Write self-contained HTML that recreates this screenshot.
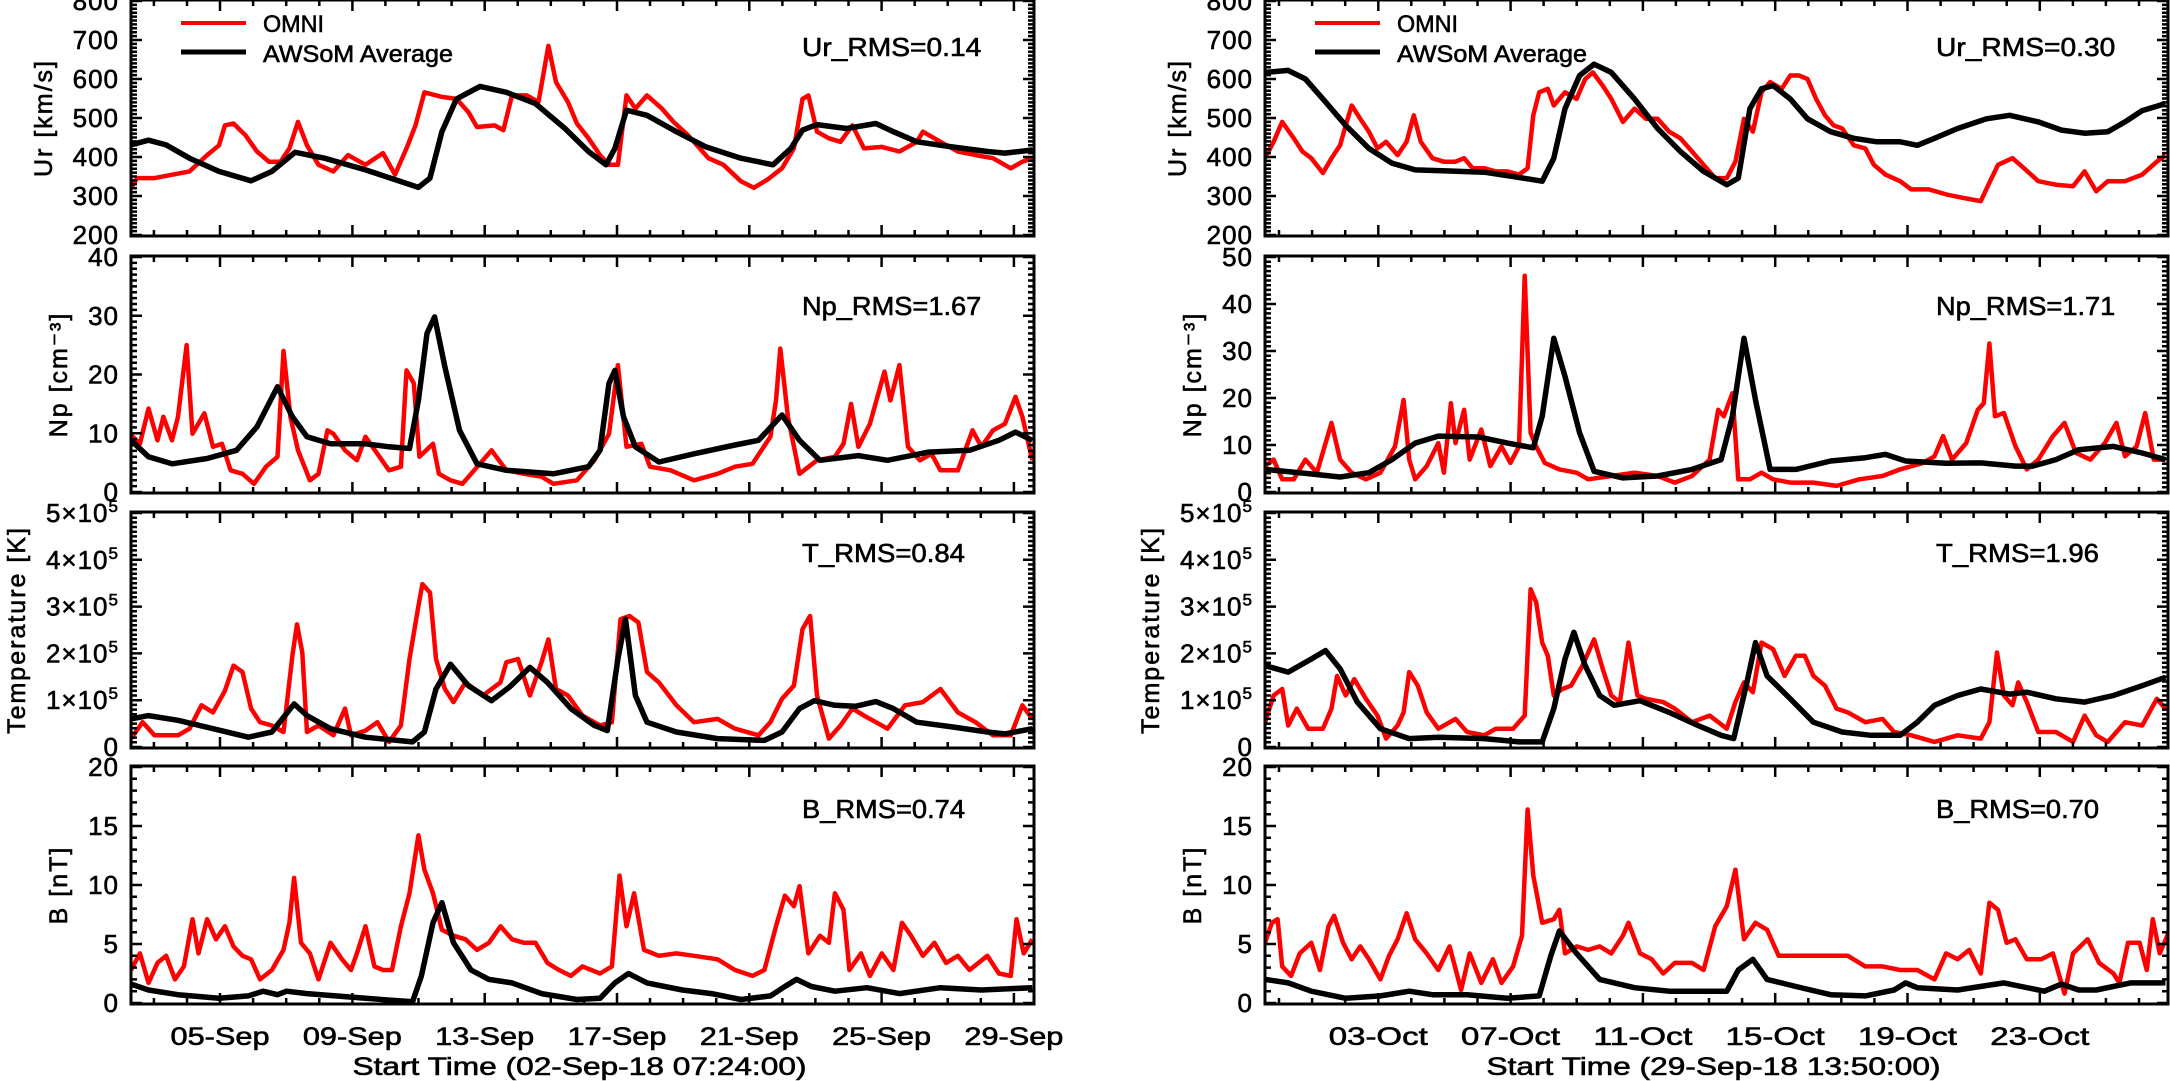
<!DOCTYPE html>
<html><head><meta charset="utf-8"><style>
html,body{margin:0;padding:0;background:#fff;}
svg{display:block;}
text{font-family:"Liberation Sans",sans-serif;fill:#000;stroke:#000;stroke-width:0.6px;}
</style></head><body>
<svg id="chart" width="2170" height="1081" viewBox="0 0 2170 1081" xmlns="http://www.w3.org/2000/svg"></svg>
<script>
// ---------- data (time in days since start, values in physical units) ----------
const leftDateLabels=["05-Sep","09-Sep","13-Sep","17-Sep","21-Sep","25-Sep","29-Sep"];
const rightDateLabels=["03-Oct","07-Oct","11-Oct","15-Oct","19-Oct","23-Oct"];
const leftFirstMidnight=0.692, rightFirstMidnight=0.424;
const leftFirstLabelDay=2.692, rightFirstLabelDay=3.424;
const urTicks=[200,300,400,500,600,700,800];
const npTicksLeft=[0,10,20,30,40];
const npTicksRight=[0,10,20,30,40,50];
const tTicks=[0,1,2,3,4,5];
const bTicks=[0,5,10,15,20];
const rmsLeft=["Ur_RMS=0.14","Np_RMS=1.67","T_RMS=0.84","B_RMS=0.74"];
const rmsRight=["Ur_RMS=0.30","Np_RMS=1.71","T_RMS=1.96","B_RMS=0.70"];

const leftUrOmniTime=[0,.18,.71,1.77,2.30,2.66,2.84,3.10,3.46,3.81,4.17,4.52,4.79,5.05,5.32,5.67,6.12,6.56,7.09,7.62,7.98,8.33,8.60,8.87,9.40,9.84,10.20,10.46,10.99,11.26,11.52,11.97,12.32,12.62,12.85,13.21,13.48,13.83,14.18,14.45,14.72,14.98,15.25,15.60,16.05,16.40,16.84,17.46,17.91,18.44,18.83,19.24,19.68,20.04,20.30,20.48,20.74,21.10,21.45,21.81,22.16,22.70,23.23,23.76,23.94,24.47,25.00,25.53,26.06,26.60,26.95,27.25];
const leftUrOmni=[320,346,346,363,405,430,481,486,456,414,388,388,422,490,430,380,363,405,380,410,355,422,481,566,554,549,515,477,481,469,558,558,541,685,592,541,486,448,405,380,380,558,524,558,524,490,456,397,380,338,321,342,371,422,549,558,465,448,439,481,422,426,414,439,465,439,414,405,397,371,388,397];
const leftUrModelTime=[0,.53,1.06,1.77,2.66,3.63,4.26,4.96,5.85,7.09,7.98,8.69,9.04,9.40,9.84,10.55,11.35,12.23,13.12,13.83,14.36,14.63,14.98,15.60,16.49,17.38,18.44,19.41,19.95,20.30,20.74,21.63,22.52,23.05,23.76,24.82,25.89,26.42,27.25];
const leftUrModel=[431,443,431,397,363,339,363,412,397,367,342,322,346,465,549,581,566,537,473,414,380,422,520,507,465,426,397,380,422,469,483,473,486,465,439,426,414,410,418];

const leftNpOmniTime=[0,.27,.53,.80,.98,1.24,1.42,1.68,1.86,2.22,2.48,2.75,3.01,3.37,3.72,4.08,4.43,4.61,4.82,5.05,5.41,5.67,5.94,6.12,6.47,6.83,7.09,7.45,7.80,8.16,8.33,8.55,8.72,9.13,9.31,9.66,10.02,10.64,10.90,11.35,11.88,12.41,12.77,13.48,14.01,14.45,14.72,14.98,15.43,15.69,16.31,17.02,17.73,18.26,18.79,19.33,19.50,19.63,19.86,20.21,20.74,21.28,21.54,21.77,21.99,22.34,22.78,22.96,23.23,23.49,23.85,24.20,24.47,25.00,25.44,25.71,26.06,26.42,26.74,26.95,27.25];
const leftNpOmni=[9.7,8.2,14.2,8.8,12.8,8.8,12.8,25,9.9,13.4,7.7,8.2,3.7,3.1,1.4,4.3,6,24,12.8,7.1,2,3.1,10.5,9.9,7.1,5.4,9.4,6.5,3.7,4.3,20.7,18.5,6,8.2,3.1,2,1.4,5.4,7.1,3.7,3.1,2.6,1.4,2,5.4,9.9,21.6,7.7,8.2,4.3,3.7,2,3.1,4.3,4.8,9.4,15.6,24.4,12.8,3.1,5.4,6,8.2,15,7.7,11.6,20.5,15.6,21.6,7.7,5.4,6.5,3.7,3.7,10.5,7.7,10.5,11.6,16.2,12.8,5.4];
const leftNpModelTime=[0,.53,1.24,2.30,3.19,3.81,4.43,4.88,5.32,6.03,7.09,7.80,8.42,8.69,8.95,9.18,9.49,9.93,10.46,11.35,12.77,13.83,14.18,14.45,14.63,14.89,15.25,15.96,17.02,18.26,18.97,19.68,20.21,20.83,21.99,22.87,24.11,25.35,26.24,26.74,27.25];
const leftNpModel=[8.8,6,4.8,5.7,7.1,11.1,17.9,12.8,9.4,8.2,8.2,7.7,7.4,15.6,27,29.8,21.3,10.5,4.8,3.7,3.1,4.3,7.1,18.5,20.7,12.8,7.7,5.1,6.5,8,8.8,13.1,8.8,5.4,6.2,5.4,6.8,7.1,8.8,10.2,8.8];

const leftTOmniTime=[0,.35,.71,1.42,1.77,2.13,2.48,2.84,3.10,3.37,3.63,3.90,4.26,4.61,4.88,5.02,5.18,5.32,5.67,6.12,6.47,6.65,7.09,7.45,7.80,8.16,8.42,8.69,8.81,9.04,9.22,9.49,9.75,10.11,10.64,11.17,11.35,11.70,12.06,12.41,12.62,12.85,13.21,13.65,14.18,14.54,14.80,15.07,15.34,15.60,15.96,16.49,17.02,17.73,18.26,18.97,19.33,19.68,20.04,20.30,20.53,20.74,21.10,21.45,21.81,22.16,22.52,22.87,23.40,23.94,24.47,25.00,25.53,26.06,26.60,26.95,27.25];
const leftTOmni=[.18,.53,.25,.25,.39,.89,.74,1.2,1.74,1.6,.82,.53,.46,.32,1.95,2.62,2.02,.32,.46,.25,.82,.25,.35,.53,.11,.46,1.88,3.01,3.48,3.3,1.88,1.24,.96,1.38,1.1,1.38,1.81,1.88,1.1,1.81,2.3,1.24,1.1,.67,.46,.53,2.73,2.8,2.66,1.6,1.38,.89,.53,.6,.39,.25,.53,1.03,1.31,2.52,2.8,1.1,.18,.46,.82,.67,.53,.39,.89,.96,1.24,.74,.53,.25,.25,.89,.6];
const leftTModelTime=[0,.53,1.42,2.48,3.55,3.99,4.26,4.93,5.32,6.03,7.09,8.51,8.87,9.22,9.66,10.20,10.90,11.44,12.06,12.59,13.30,14.01,14.40,14.72,14.95,15.25,15.60,16.49,17.73,19.15,19.68,20.21,20.66,21.28,21.90,22.52,23.05,23.76,24.82,25.89,26.42,27.25];
const leftTModel=[.6,.67,.57,.39,.21,.28,.32,.92,.67,.39,.21,.11,.32,1.24,1.77,1.31,.99,1.28,1.7,1.38,.82,.46,.35,1.88,2.73,1.1,.53,.32,.18,.14,.32,.82,.99,.89,.87,.97,.82,.53,.43,.32,.28,.39];

const leftBOmniTime=[0,.27,.53,.80,1.06,1.33,1.60,1.86,2.04,2.30,2.57,2.84,3.10,3.37,3.63,3.90,4.26,4.61,4.79,4.93,5.14,5.41,5.67,6.03,6.38,6.65,6.83,7.09,7.36,7.62,7.89,8.16,8.42,8.69,8.87,9.13,9.40,9.75,10.11,10.46,10.82,11.17,11.52,11.88,12.23,12.59,12.94,13.30,13.65,14.18,14.54,14.77,14.98,15.21,15.51,15.96,16.49,17.02,17.73,18.26,18.79,19.15,19.50,19.77,20.04,20.21,20.48,20.83,21.10,21.28,21.54,21.72,22.07,22.34,22.70,23.05,23.31,23.58,23.94,24.29,24.64,25.00,25.35,25.89,26.24,26.60,26.77,26.99,27.25];
const leftBOmni=[2.8,4.2,1.7,3.4,4,2,3.1,7.1,4.2,7.1,5.4,6.5,4.8,4,3.7,2,2.8,4.5,6.8,10.6,5.1,4.2,2,5.1,3.7,2.8,4.2,6.5,3.1,2.8,2.8,6.5,9.3,14.2,11.3,9.3,6.2,5.7,5.4,4.5,5.1,6.5,5.4,5.1,5.1,3.4,2.8,2.3,3.1,2.5,3.1,10.8,6.5,9.3,4.5,4,4.2,4,3.7,2.8,2.3,2.8,6.5,9.1,8.2,9.9,4.2,5.7,5.1,9.3,7.9,2.8,4.2,2.3,4.2,2.8,6.8,5.7,4,5.1,3.4,4,2.8,4,2.5,2.3,7.1,4.2,5.4];
const leftBModelTime=[0,.53,1.42,2.66,3.55,3.99,4.43,4.70,5.32,7.09,8.51,8.78,9.13,9.40,9.75,10.28,10.82,11.52,12.41,13.48,14.18,14.63,15.04,15.60,16.67,17.55,18.44,19.33,19.77,20.12,20.57,21.28,22.25,23.23,24.47,25.71,27.25];
const leftBModel=[1.6,1.1,.7,.4,.6,1,.7,1,.8,.4,.1,2.3,6.8,8.5,5.1,2.8,2,1.7,.8,.3,.4,1.7,2.5,1.7,1.1,.8,.3,.6,1.4,2,1.4,1,1.3,.8,1.3,1.1,1.3];

const rightUrOmniTime=[0,.26,.52,.87,1.13,1.40,1.75,2.01,2.27,2.44,2.62,2.88,3.14,3.40,3.66,4.01,4.28,4.50,4.71,5.06,5.41,5.76,6.02,6.28,6.63,6.98,7.33,7.68,7.94,8.11,8.29,8.55,8.73,9.07,9.42,9.68,9.91,10.21,10.47,10.82,11.17,11.52,11.87,12.22,12.56,12.91,13.26,13.61,13.96,14.22,14.48,14.75,15.01,15.27,15.62,15.88,16.14,16.40,16.66,16.93,17.19,17.45,17.80,18.15,18.41,18.76,19.20,19.54,20.07,20.59,21.11,21.64,21.90,22.16,22.60,22.95,23.38,23.91,24.43,24.78,25.13,25.48,26.00,26.52,26.96,27.22];
const rightUrOmni=[397,439,490,448,414,397,359,397,430,481,532,498,465,422,439,405,439,507,439,397,388,388,397,371,371,363,363,355,371,507,566,575,532,566,549,600,617,583,549,490,524,498,498,465,448,414,380,346,346,388,498,465,566,592,575,609,609,600,549,507,481,473,430,422,380,355,338,317,317,304,295,287,334,380,397,371,338,329,325,363,312,338,338,355,388,405];
const rightUrModelTime=[0,.70,1.22,1.75,2.44,3.14,3.84,4.54,5.58,6.63,7.50,8.38,8.73,9.07,9.51,9.95,10.47,11.17,11.87,12.56,13.26,13.96,14.31,14.66,15.01,15.36,15.88,16.40,17.10,17.80,18.50,19.20,19.72,20.24,20.94,21.81,22.51,23.38,24.08,24.78,25.48,26.00,26.52,27.22];
const rightUrModel=[617,622,600,549,481,422,384,367,364,361,350,338,397,524,609,638,617,549,473,414,363,329,346,524,575,583,549,498,465,448,439,439,430,448,473,498,507,490,469,461,465,490,519,537];

const rightNpOmniTime=[0,.26,.52,.87,1.22,1.57,2.01,2.27,2.62,3.05,3.49,3.93,4.19,4.36,4.54,4.89,5.24,5.41,5.62,5.76,6.02,6.19,6.54,6.81,7.15,7.42,7.68,7.85,8.03,8.20,8.46,8.90,9.42,9.77,10.47,11.17,11.87,12.39,12.91,13.44,13.70,13.87,14.13,14.31,14.66,15.01,15.36,15.88,16.58,17.28,17.97,18.67,19.20,19.89,20.24,20.50,20.77,21.20,21.55,21.73,21.90,22.07,22.34,22.69,23.03,23.38,23.82,24.17,24.52,24.95,25.39,25.74,26.00,26.35,26.61,26.87,27.22];
const rightNpOmni=[5.5,6.9,2.7,2.7,6.9,4.1,14.7,6.9,4.1,2.7,4.1,9.7,19.6,6.9,2.7,5.5,10.4,4.1,18.9,10.4,17.5,6.9,13.3,5.5,9.7,6.2,9.7,46,12.6,9.7,6.2,4.8,4.1,2.7,3.4,4.1,3.4,2,3.4,6.9,17.5,16.1,21,2.7,2.7,4.1,2.7,2,2,1.3,2.7,3.4,4.8,6.2,7.6,11.9,6.9,10.4,17.5,18.9,31.6,16.1,16.8,9.7,4.8,6.9,11.9,14.7,8.3,6.9,10.4,14.7,7.6,9.7,16.8,6.9,6.9];
const rightNpModelTime=[0,1.05,2.27,3.14,3.84,4.54,5.24,6.46,7.33,8.11,8.38,8.73,9.07,9.51,9.95,10.82,11.87,12.91,13.79,14.13,14.48,14.83,15.27,16.05,17.10,18.15,18.76,19.37,20.59,21.64,22.69,23.21,23.91,24.60,25.65,26.52,27.22];
const rightNpModel=[4.8,4.1,3.2,4.1,6.9,10.4,11.9,11.7,10.4,9.4,16.1,32.7,24.6,12.6,4.4,3,3.4,4.8,6.9,16.1,32.7,19.6,4.8,4.8,6.6,7.3,8,6.6,6.1,6.2,5.5,5.5,6.9,9,9.7,8.3,6.9];

const rightTOmniTime=[0,.26,.52,.70,.96,1.31,1.75,2.01,2.18,2.44,2.70,3.05,3.40,3.66,4.01,4.19,4.36,4.62,4.89,5.24,5.76,6.11,6.63,6.98,7.50,7.85,8.03,8.20,8.38,8.55,8.73,8.99,9.25,9.60,9.95,10.21,10.47,10.73,10.99,11.26,11.52,12.04,12.39,12.91,13.44,13.96,14.22,14.48,14.75,15.01,15.36,15.71,16.05,16.32,16.58,16.93,17.28,17.62,18.15,18.67,19.02,19.54,20.24,20.94,21.64,21.90,22.13,22.34,22.60,22.77,23.03,23.38,23.91,24.43,24.78,25.13,25.48,26.00,26.52,26.96,27.22];
const rightTOmni=[.53,1.1,1.24,.46,.82,.39,.39,.82,1.52,1.1,1.45,1.03,.67,.18,.46,.74,1.6,1.31,.74,.39,.6,.32,.25,.39,.39,.67,3.37,3.09,2.23,1.95,1.1,1.24,1.31,1.74,2.3,1.67,1.1,.96,2.23,1.1,1.03,.96,.82,.53,.67,.39,.96,1.38,1.17,2.23,2.09,1.52,1.95,1.95,1.52,1.31,.82,.74,.53,.6,.32,.25,.11,.25,.18,.53,2.02,1.1,.89,1.38,.96,.32,.32,.11,.67,.25,.11,.53,.46,1.03,.82];
const rightTModelTime=[0,.70,1.40,1.83,2.27,2.79,3.49,4.36,5.24,6.63,7.68,8.38,8.73,9.07,9.34,9.68,10.12,10.56,11.34,12.22,13.09,13.79,14.17,14.57,14.83,15.18,15.88,16.58,17.45,18.32,19.20,19.72,20.24,20.94,21.64,22.51,23.03,23.91,24.78,25.65,26.52,27.22];
const rightTModel=[1.74,1.6,1.88,2.06,1.67,.96,.39,.18,.21,.18,.11,.11,.82,1.88,2.45,1.74,1.1,.89,.99,.74,.46,.25,.18,1.38,2.23,1.52,1.03,.53,.32,.25,.25,.53,.89,1.1,1.24,1.13,1.17,1.03,.96,1.1,1.31,1.49];

const rightBOmniTime=[0,.21,.38,.52,.79,1.05,1.40,1.66,1.92,2.09,2.36,2.62,2.88,3.14,3.49,3.75,4.01,4.28,4.54,4.89,5.24,5.58,5.93,6.19,6.54,6.89,7.15,7.50,7.77,7.94,8.11,8.38,8.73,8.90,9.07,9.42,9.77,10.12,10.47,10.82,10.99,11.34,11.69,12.04,12.39,12.91,13.26,13.61,13.96,14.22,14.48,14.83,15.18,15.53,16.05,16.58,17.10,17.62,18.15,18.67,19.20,19.72,20.24,20.59,20.94,21.29,21.64,21.90,22.16,22.42,22.69,23.03,23.47,23.82,24.17,24.43,24.87,25.22,25.65,25.83,26.09,26.44,26.66,26.84,27.05,27.31];
const rightBOmni=[5.1,6.8,7.1,3.1,2.3,4.2,5.1,2.8,6.5,7.4,5.1,3.7,4.8,3.7,2,4,5.4,7.6,5.4,4.2,2.8,4.8,1.1,4.2,1.7,3.7,1.7,3.1,5.7,16.4,10.8,6.8,7.1,7.9,4.2,4.8,4.5,4.8,4.2,5.7,6.8,4.2,3.7,2.5,3.4,3.4,2.8,6.5,8.2,11.3,5.4,6.8,6.2,4,4,4,4,4,3.1,3.1,2.8,2.8,2,4.2,3.7,4.5,2.5,8.5,7.9,5.1,5.4,3.7,3.7,4.2,.8,4.2,5.4,3.4,2.5,1.7,5.1,5.1,2.8,7.1,4.2,5.9];
const rightBModelTime=[0,.70,1.40,2.44,3.49,4.36,5.06,6.11,7.33,8.29,8.64,8.90,9.42,10.12,11.17,12.22,13.96,14.31,14.75,15.18,16.05,17.10,18.15,19.02,19.37,19.72,20.94,22.34,23.56,24.08,24.60,25.13,26.17,27.22];
const rightBModel=[2,1.7,1,.4,.6,1,.7,.7,.4,.6,4,6.1,4.2,2,1.3,1,1,2.8,3.7,2,1.4,.7,.6,1.1,1.7,1.3,1.1,1.7,1,1.6,1.1,1.1,1.7,1.7];

// ---------- layout ----------
const NS="http://www.w3.org/2000/svg";
const svg=document.getElementById('chart');
const SPAN=27.3, PW=903;
const sides=[{x0:131,side:'left'},{x0:1265,side:'right'}];
const tops=[0,256,512,766], bots=[236,493,748,1004];
function el(tag,attrs,parent){const e=document.createElementNS(NS,tag);for(const k in attrs)e.setAttribute(k,attrs[k]);(parent||svg).appendChild(e);return e;}
function xScale(s,d){return s.x0+d/SPAN*PW;}
function yScale(p,v,lo,hi){return (bots[p]-1)-(v-lo)/(hi-lo)*(bots[p]-tops[p]-2);}

const panelDefs=[
 {key:'ur',lo:[200,200],hi:[800,800],ticks:[urTicks,urTicks],minor:10,title:'Ur [km/s]',tx:[43,1177]},
 {key:'np',lo:[0,0],hi:[40,50],ticks:[npTicksLeft,npTicksRight],minor:1,title:'Np [cm⁻³]',tx:[58,1192]},
 {key:'t',lo:[0,0],hi:[5,5],ticks:[tTicks,tTicks],minor:0.1,title:'Temperature [K]',tx:[16,1150]},
 {key:'b',lo:[0,0],hi:[20,20],ticks:[bTicks,bTicks],minor:1,title:'B [nT]',tx:[58,1192]}
];
const series={
 left:[[leftUrOmniTime,leftUrOmni,leftUrModelTime,leftUrModel],[leftNpOmniTime,leftNpOmni,leftNpModelTime,leftNpModel],[leftTOmniTime,leftTOmni,leftTModelTime,leftTModel],[leftBOmniTime,leftBOmni,leftBModelTime,leftBModel]],
 right:[[rightUrOmniTime,rightUrOmni,rightUrModelTime,rightUrModel],[rightNpOmniTime,rightNpOmni,rightNpModelTime,rightNpModel],[rightTOmniTime,rightTOmni,rightTModelTime,rightTModel],[rightBOmniTime,rightBOmni,rightBModelTime,rightBModel]]
};
const defs=el('defs',{});

sides.forEach((s,si)=>{
  const firstMid=si===0?leftFirstMidnight:rightFirstMidnight;
  const firstLab=si===0?leftFirstLabelDay:rightFirstLabelDay;
  const labels=si===0?leftDateLabels:rightDateLabels;
  const rms=si===0?rmsLeft:rmsRight;
  panelDefs.forEach((pd,p)=>{
    const g=el('g',{});
    
    
    const lo=pd.lo[si],hi=pd.hi[si];
    const cp=el('clipPath',{id:'c'+si+p},defs);
    el('rect',{x:s.x0,y:tops[p],width:PW,height:bots[p]-tops[p]},cp);
    const ser=series[s.side][p];
    [[ser[0],ser[1],'#ff0000',4.5,'omni'],[ser[2],ser[3],'#000',5.5,'awsom']].forEach(([tt,vv,col,w,nm])=>{
      const n=Math.min(tt.length,vv.length);
      let pts=[];
      for(let i=0;i<n;i++)pts.push(xScale(s,tt[i]).toFixed(1)+','+yScale(p,vv[i],lo,hi).toFixed(1));
      const pl=el('polyline',{points:pts.join(' '),fill:'none',stroke:col,'stroke-width':w,'stroke-linejoin':'round','clip-path':'url(#c'+si+p+')'},g);
      
      
    });
    const box=el('rect',{x:s.x0,y:tops[p],width:PW,height:bots[p]-tops[p],fill:'none',stroke:'#000','stroke-width':3},g);
    
    
    let tk='';
    const nMinor=Math.round((hi-lo)/pd.minor);
    for(let i=0;i<=nMinor;i++){
      const v=lo+i*pd.minor, y=yScale(p,v,lo,hi).toFixed(1);
      const isMaj=pd.ticks[si].some(t=>Math.abs(t-v)<1e-6);
      const L=isMaj?11:6;
      tk+=`M${s.x0},${y}h${L}M${s.x0+PW},${y}h${-L}`;
    }
    for(let d=firstMid; d<SPAN; d+=1){
      const x=xScale(s,d).toFixed(1);
      const isMaj=Math.abs(((d-firstLab)%4+4)%4)<0.01;
      const L=isMaj?11:6;
      tk+=`M${x},${bots[p]}v${-L}M${x},${tops[p]}v${L}`;
    }
    const tp=el('path',{d:tk,stroke:'#000','stroke-width':2.5,fill:'none'},g);
    
    
    pd.ticks[si].forEach(v=>{
      const y=yScale(p,v,lo,hi)+9;
      const t=el('text',{x:s.x0-12,y:y,'text-anchor':'end','font-size':26,'letter-spacing':1},g);
      
      
      if(pd.key==='t'&&v>0){
        t.textContent=v+'×10';
        const sp=el('tspan',{dy:-10,'font-size':17},t); sp.textContent='5';
      } else t.textContent=v;
    });
    const cy=(tops[p]+bots[p])/2;
    const tt=el('text',{x:pd.tx[si],y:cy,'text-anchor':'middle','font-size':25,'letter-spacing':2,transform:`rotate(-90 ${pd.tx[si]} ${cy})`,dy:9},g);
    
    
    tt.textContent=pd.title;
    const ry=[46,305,552,808][p]+10;
    const rt=el('text',{x:s.x0+671,y:ry,'font-size':26,textLength:rms[p].length*16.3,lengthAdjust:'spacingAndGlyphs'},g);
    
    
    rt.textContent=rms[p];
  });
  labels.forEach((lab,i)=>{
    const x=xScale(s,firstLab+4*i);
    const t=el('text',{x:x,y:1045,'text-anchor':'middle','font-size':25,textLength:99,lengthAdjust:'spacingAndGlyphs'});
    
    
    t.textContent=lab;
  });
  const st=el('text',{x:s.x0+PW/2-3,y:1075,'text-anchor':'middle','font-size':25,textLength:454,lengthAdjust:'spacingAndGlyphs'});
  
  
  st.textContent=si===0?'Start Time (02-Sep-18 07:24:00)':'Start Time (29-Sep-18 13:50:00)';
  const lg=el('g',{});
  
  
  const lx=s.x0+50;
  el('line',{x1:lx,y1:23,x2:lx+65,y2:23,stroke:'#ff0000','stroke-width':4},lg);
  el('line',{x1:lx,y1:52,x2:lx+65,y2:52,stroke:'#000','stroke-width':5},lg);
  const o=el('text',{x:lx+82,y:32,'font-size':24,textLength:61,lengthAdjust:'spacingAndGlyphs'},lg);
  
  
  o.textContent='OMNI';
  const a=el('text',{x:lx+82,y:62,'font-size':24,textLength:190,lengthAdjust:'spacingAndGlyphs'},lg);
  
  
  a.textContent='AWSoM Average';
});
</script>
</body></html>
